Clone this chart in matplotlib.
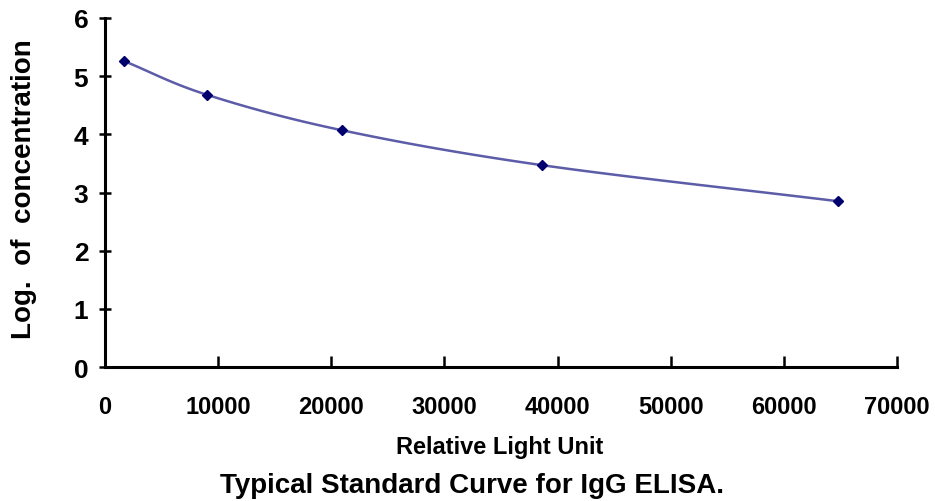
import matplotlib.pyplot as plt
import numpy as np

# Datos
rlu = np.array([1680, 9015, 20950, 38620, 64790])
log_conc = np.array([5.26, 4.68, 4.07, 3.47, 2.85])

x_ticks = [0, 10000, 20000, 30000, 40000, 50000, 60000, 70000]
y_ticks = [0, 1, 2, 3, 4, 5, 6]


def suavizar(x, y, n=30):
    # curva suave tipo Catmull-Rom entre los puntos (como "smoothed line" de Excel)
    px = np.concatenate([[2 * x[0] - x[1]], x, [2 * x[-1] - x[-2]]])
    py = np.concatenate([[2 * y[0] - y[1]], y, [2 * y[-1] - y[-2]]])
    xs, ys = [], []
    t = np.linspace(0, 1, n)
    for i in range(1, len(px) - 2):
        for p, out in ((px, xs), (py, ys)):
            p0, p1, p2, p3 = p[i - 1], p[i], p[i + 1], p[i + 2]
            out.extend(0.5 * ((2 * p1) + (-p0 + p2) * t
                              + (2 * p0 - 5 * p1 + 4 * p2 - p3) * t ** 2
                              + (-p0 + 3 * p1 - 3 * p2 + p3) * t ** 3))
    return np.array(xs), np.array(ys)


plt.rcParams['font.family'] = ['Liberation Sans', 'DejaVu Sans']
plt.rcParams['font.weight'] = 'bold'

fig = plt.figure(figsize=(9.35, 5.02), dpi=100)
ax = fig.add_axes([105 / 935, 1 - 368 / 502, 792 / 935, 349 / 502])

cx, cy = suavizar(rlu, log_conc)
ax.plot(cx, cy, color='#5c5ca8', lw=1.8)
ax.plot(rlu, log_conc, ls='none', marker='D', ms=5.5, color='#00006e')

ax.set_xlim(0, 70000)
ax.set_ylim(0, 6)
ax.set_xticks(x_ticks)
ax.set_yticks(y_ticks)
ax.spines['top'].set_visible(False)
ax.spines['right'].set_visible(False)
ax.spines['left'].set_linewidth(2.2)
ax.spines['bottom'].set_linewidth(2.2)
ax.tick_params(axis='x', direction='in', length=8, width=1.8, pad=20, labelsize=17)
ax.tick_params(axis='y', direction='inout', length=8, width=1.8, pad=8, labelsize=19)
for lab in ax.get_xticklabels() + ax.get_yticklabels():
    lab.set_fontweight('bold')

fig.text(500 / 935, 1 - 448 / 502, 'Relative Light Unit', ha='center', va='center',
         fontsize=17, fontweight='bold')
fig.text(24 / 935, 1 - 189 / 502, 'Log.  of  concentration', ha='center', va='center',
         rotation=90, fontsize=20, fontweight='bold')
fig.text(472 / 935, 1 - 486 / 502, 'Typical Standard Curve for IgG ELISA.', ha='center',
         va='center', fontsize=20, fontweight='bold')

fig.savefig('out.png', dpi=100)
